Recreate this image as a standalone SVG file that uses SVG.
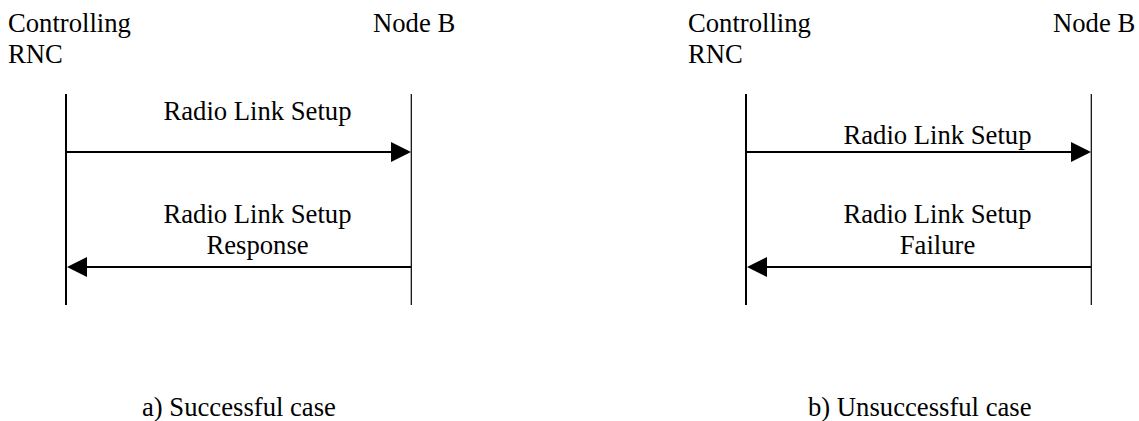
<svg xmlns="http://www.w3.org/2000/svg" width="1139" height="421" viewBox="0 0 1139 421">
<style>
text{font-family:'Liberation Serif','DejaVu Serif',serif;font-size:26.67px;fill:#000}
.mid{text-anchor:middle}
.ll{stroke:#000;stroke-width:2;fill:none}
.lr{stroke:#000;stroke-width:1.2;fill:none}
.msg{stroke:#000;stroke-width:2;fill:none;marker-end:url(#ah)}
</style>
<defs>
<marker id="ah" markerUnits="userSpaceOnUse" markerWidth="20" markerHeight="20" refX="0" refY="10" orient="auto" viewBox="0 0 20 20">
<path d="M0,0 L20,10 L0,20 Z" fill="#000"/>
</marker>
</defs>
<rect width="1139" height="421" fill="#fff"/>
<g id="diagram-a">
<g id="a-rnc"><text x="8" y="32">Controlling</text><text x="8" y="63">RNC</text><line class="ll" x1="66" y1="94" x2="66" y2="305"/></g>
<g id="a-nodeb"><text x="373" y="32">Node B</text><line class="lr" x1="411.3" y1="94" x2="411.3" y2="305"/></g>
<g id="a-connectors">
<line class="msg" x1="67" y1="152" x2="391" y2="152"/>
<text class="mid" x="257.5" y="120">Radio Link Setup</text>
<line class="msg" x1="411" y1="267" x2="87" y2="267"/>
<text class="mid" x="257.5" y="223">Radio Link Setup</text>
<text class="mid" x="257.5" y="254">Response</text>
</g>
<text x="142" y="416">a) Successful case</text>
</g>
<g id="diagram-b">
<g id="b-rnc"><text x="688" y="32">Controlling</text><text x="688" y="63">RNC</text><line class="ll" x1="746" y1="94" x2="746" y2="305"/></g>
<g id="b-nodeb"><text x="1053" y="32">Node B</text><line class="lr" x1="1091.3" y1="94" x2="1091.3" y2="305"/></g>
<g id="b-connectors">
<line class="msg" x1="747" y1="152" x2="1071" y2="152"/>
<text class="mid" x="937.5" y="144">Radio Link Setup</text>
<line class="msg" x1="1091" y1="267" x2="767" y2="267"/>
<text class="mid" x="937.5" y="223">Radio Link Setup</text>
<text class="mid" x="937.5" y="254">Failure</text>
</g>
<text x="808" y="416">b) Unsuccessful case</text>
</g>
</svg>
